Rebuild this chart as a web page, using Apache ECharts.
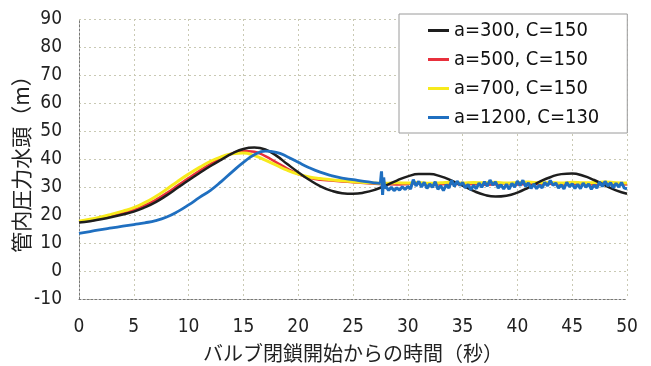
<!DOCTYPE html>
<html lang="ja">
<head>
    <meta charset="UTF-8">
    <title>管内圧力水頭</title>
    <script src="https://cdn.jsdelivr.net/npm/echarts@6/dist/echarts.min.js"></script>
    <style>
        html, body { margin: 0; padding: 0; background: #fff; }
    </style>
</head>
<body>
<div id="chart" style="width:651px;height:366px;"></div>
<script>
    // 経過時間（秒）
    var secs = [0, 1, 2, 3, 4, 5, 6, 7, 8, 9, 10, 11, 12, 13, 14, 15, 16, 17, 18, 19, 20,
        21, 22, 23, 24, 25, 26, 27, 28, 29, 30, 31, 32, 33, 34, 35, 36, 37, 38, 39, 40,
        41, 42, 43, 44, 45, 46, 47, 48, 49, 50];

    var legendNames = ['a=300, C=150', 'a=500, C=150', 'a=700, C=150', 'a=1200, C=130'];

    var head300 = [17.3, 17.8, 18.5, 19.3, 20.2, 21.2, 22.7, 24.6, 27.0, 29.7, 32.4,
        35.0, 37.5, 39.8, 42.0, 43.6, 44.1, 43.4, 41.2, 38.2, 35.3,
        32.6, 30.3, 28.7, 27.8, 27.6, 28.0, 29.0, 30.6, 32.3, 33.8,
        34.6, 34.6, 33.8, 32.3, 30.5, 28.6, 27.2, 26.6, 26.9, 28.0,
        29.8, 31.8, 33.5, 34.6, 34.8, 34.0, 32.5, 30.6, 28.8, 27.6];

    var head500 = [17.5, 18.0, 18.8, 19.7, 20.7, 21.8, 23.4, 25.4, 27.8, 30.5, 33.2,
        35.8, 38.2, 40.3, 42.0, 42.9, 42.6, 41.0, 38.8, 36.6, 34.6,
        33.3, 32.6, 32.3, 32.0, 31.7, 31.4, 31.2, 31.0, 30.9, 31.1,
        31.3, 30.8, 31.0, 31.2, 30.9, 31.1, 30.8, 31.0, 31.3, 30.9,
        31.1, 31.0, 31.2, 30.8, 31.1, 31.3, 30.9, 31.0, 31.2, 30.9];

    var head700 = [17.8, 18.5, 19.3, 20.3, 21.4, 22.6, 24.4, 26.6, 29.2, 32.0, 34.6,
        37.0, 39.2, 40.8, 41.9, 42.1, 41.2, 39.6, 37.8, 36.0, 34.6,
        33.6, 33.0, 32.6, 32.2, 31.9, 31.6, 31.4, 31.3, 31.5, 31.4,
        31.6, 31.3, 31.5, 31.7, 31.4, 31.6, 31.5, 31.7, 31.4, 31.6,
        31.8, 31.5, 31.6, 31.4, 31.7, 31.5, 31.6, 31.8, 31.5, 31.4];

    // a=1200 は前半を滑らかな曲線、27.5秒以降を脈動として分けて持つ
    var secs1200 = [0, 1, 2, 3, 4, 5, 6, 7, 8, 9, 10, 11, 12, 13, 14, 15, 16, 17, 18, 19, 20,
        21, 22, 23, 24, 25, 26, 27, 27.5];
    var head1200 = [13.4, 14.1, 14.8, 15.4, 16.0, 16.6, 17.2, 18.0, 19.3, 21.2, 23.6,
        26.3, 28.8, 32.0, 35.5, 38.8, 41.5, 42.8, 42.4, 40.8, 38.8,
        36.9, 35.3, 34.1, 33.2, 32.6, 32.0, 31.5, 31.3];

    var spikeSecs = [27.5, 27.6, 27.7, 27.8, 27.9];
    var spikeHead = [31.3, 35.6, 27.2, 33.4, 29.4];

    var noiseStart = 28, noiseStep = 0.25;
    var noiseHead = [30.2, 28.8, 29.9, 28.7, 29.7, 28.9, 30.1, 29.1, 30.2, 29.3,
        32.6, 30.4, 32.0, 30.0, 31.7, 29.5, 31.1, 29.9, 31.9, 29.2,
        30.5, 28.7, 30.8, 29.6, 32.4, 30.2, 32.1, 30.6, 31.6, 29.7,
        30.9, 29.0, 30.6, 29.4, 31.4, 29.9, 31.9, 30.3, 32.5, 30.7,
        31.8, 29.6, 30.8, 29.3, 31.0, 29.2, 31.3, 30.0, 32.1, 30.5,
        32.4, 30.2, 31.5, 29.5, 31.1, 29.4, 30.7, 29.7, 31.6, 30.4,
        32.3, 30.6, 31.4, 29.6, 30.8, 29.3, 31.7, 30.1, 31.2, 29.5,
        31.0, 29.4, 31.4, 29.9, 31.1, 29.2, 30.7, 29.6, 31.8, 30.2,
        32.0, 30.4, 31.5, 29.7, 31.3, 30.0, 31.6, 29.6, 29.4];

    var lineColors = ['#1e1e1e', '#e8303c', '#f7ea1c', '#1f6fc0'];

    function pairs(xs, ys) {
        var out = [];
        for (var i = 0; i < ys.length; i++) {
            out.push([xs[i], ys[i]]);
        }
        return out;
    }

    var noiseData = pairs(spikeSecs, spikeHead);
    for (var i = 0; i < noiseHead.length; i++) {
        noiseData.push([noiseStart + i * noiseStep, noiseHead[i]]);
    }

    var numFont = '"DejaVu Sans Condensed", "Liberation Sans", sans-serif';
    var jpFont = '"Noto Sans CJK JP", sans-serif';
    var gridLine = { show: true, lineStyle: { color: '#c9c9b4', type: [2, 3], width: 1 } };

    var chart = echarts.init(document.getElementById('chart'));
    var option = {
        backgroundColor: '#fff',
        animation: false,
        grid: { left: 79, right: 24, top: 19, bottom: 67, outerBoundsMode: 'none' },
        legend: {
            data: legendNames,
            orient: 'vertical',
            left: 399,
            top: 14,
            padding: [4, 28, 3, 29],
            itemGap: 4,
            itemWidth: 21,
            itemHeight: 3,
            icon: 'rect',
            backgroundColor: '#fff',
            borderColor: '#9a9a9a',
            borderWidth: 1,
            textStyle: { fontFamily: numFont, fontSize: 20, lineHeight: 25, color: '#111' }
        },
        xAxis: {
            type: 'value',
            min: 0,
            max: 50,
            interval: 5,
            name: 'バルブ閉鎖開始からの時間（秒）',
            nameLocation: 'middle',
            nameGap: 44,
            nameMoveOverlap: false,
            nameTextStyle: { fontFamily: jpFont, fontSize: 20, color: '#222' },
            axisLine: { show: true, onZero: false, lineStyle: { color: '#777', type: [2, 2] } },
            axisTick: { show: false },
            axisLabel: { margin: 19, fontFamily: numFont, fontSize: 19, color: '#222' },
            splitLine: gridLine
        },
        yAxis: {
            type: 'value',
            min: -10,
            max: 90,
            interval: 10,
            name: '管内圧力水頭（m）',
            nameLocation: 'middle',
            nameGap: 47,
            nameMoveOverlap: false,
            nameTextStyle: { fontFamily: jpFont, fontSize: 21, color: '#222' },
            axisLine: { show: true, onZero: false, lineStyle: { color: '#777', type: [2, 2] } },
            axisTick: { show: false },
            axisLabel: { margin: 17, fontFamily: numFont, fontSize: 19, color: '#222' },
            splitLine: gridLine
        },
        series: [
            {
                name: legendNames[0], type: 'line', data: pairs(secs, head300),
                smooth: true, showSymbol: false, color: lineColors[0],
                lineStyle: { width: 2.5 }, z: 3
            },
            {
                name: legendNames[1], type: 'line', data: pairs(secs, head500),
                smooth: true, showSymbol: false, color: lineColors[1],
                lineStyle: { width: 2.5 }, z: 2
            },
            {
                name: legendNames[2], type: 'line', data: pairs(secs, head700),
                smooth: true, showSymbol: false, color: lineColors[2],
                lineStyle: { width: 3 }, z: 2
            },
            {
                name: legendNames[3], type: 'line', data: pairs(secs1200, head1200),
                smooth: true, showSymbol: false, color: lineColors[3],
                lineStyle: { width: 2.8 }, z: 4
            },
            {
                name: legendNames[3], type: 'line', data: noiseData,
                showSymbol: false, color: lineColors[3],
                lineStyle: { width: 3 }, z: 4
            }
        ]
    };
    chart.setOption(option);
</script>
</body>
</html>
